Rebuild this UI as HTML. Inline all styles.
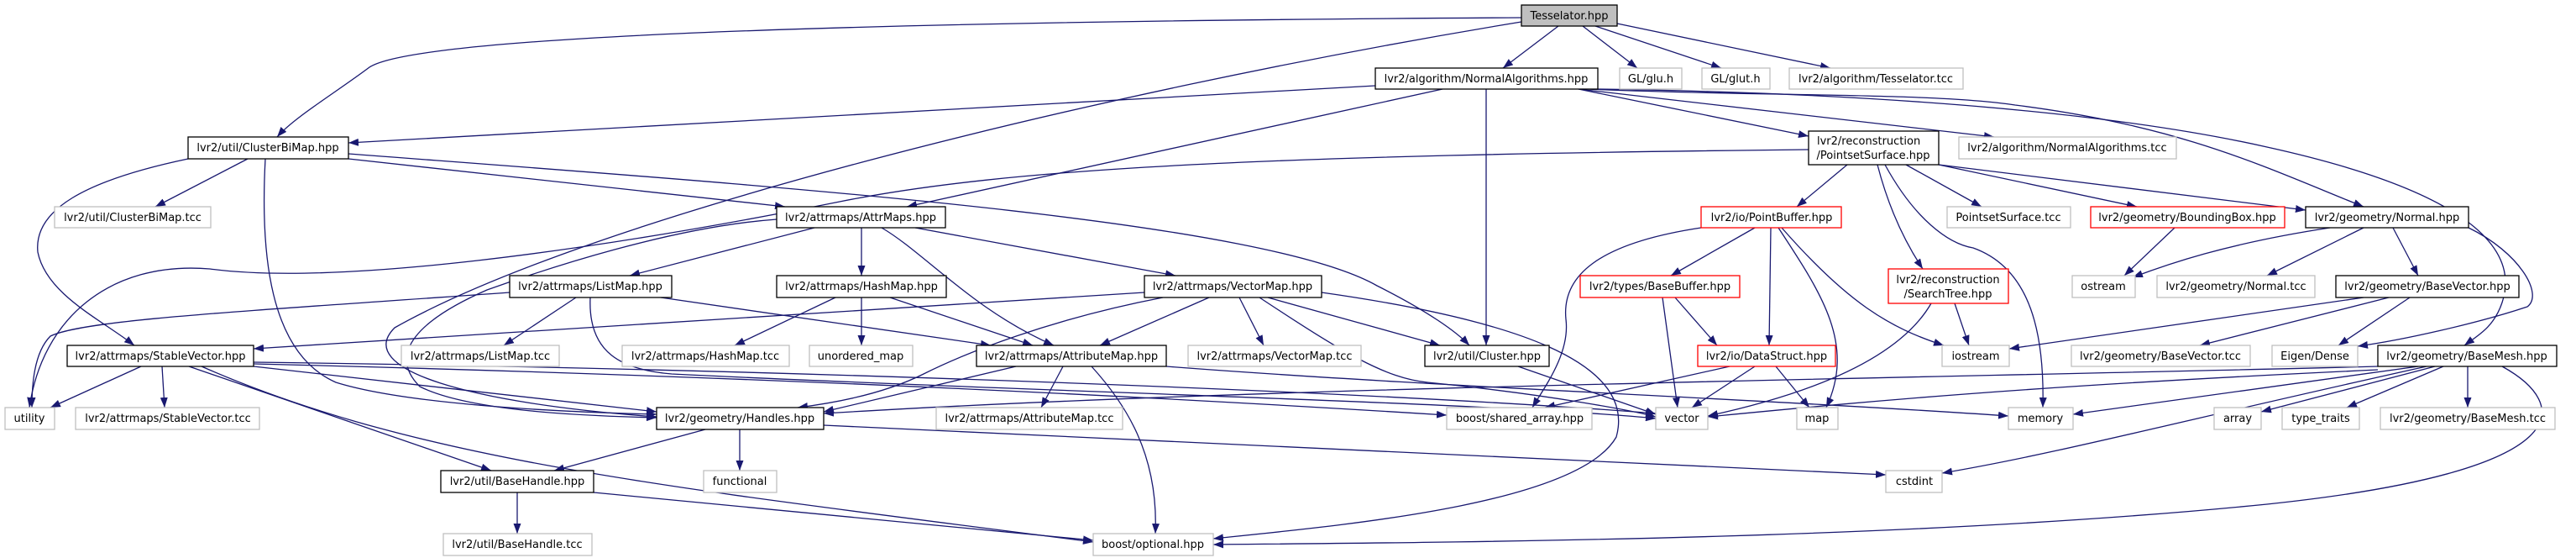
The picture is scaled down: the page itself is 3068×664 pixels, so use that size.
<!DOCTYPE html>
<html><head><meta charset="utf-8">
<style>
html,body{margin:0;padding:0;background:#fff;}
svg{display:block;}
text{font-family:"DejaVu Sans","Liberation Sans",sans-serif;font-size:13px;fill:#000;}
.e{fill:none;stroke:#191970;stroke-width:1.3;marker-end:url(#a);}
.n{fill:#fff;stroke:#000;stroke-width:1.3;}
.g{fill:#fff;stroke:#bfbfbf;stroke-width:1.3;}
.r{fill:#fff;stroke:#ff0000;stroke-width:1.3;}
.t{fill:#bfbfbf;stroke:#000;stroke-width:1.3;}
</style></head><body>
<svg width="3068" height="664" viewBox="0 0 3068 664" xmlns="http://www.w3.org/2000/svg">
<defs><marker id="a" markerUnits="userSpaceOnUse" markerWidth="12" markerHeight="9" refX="12" refY="4.5" orient="auto"><path d="M0,0 L12,4.5 L0,9 z" fill="#191970"/></marker></defs>
<g>
<path class="e" d="M1856,31 L1790,81"/>
<path class="e" d="M1885,31 L1950,81"/>
<path class="e" d="M1900,31 L2050,81"/>
<path class="e" d="M1926,28 L2180,81"/>
<path class="e" d="M1812,21 C1100,25 500,40 440,80 C400,110 350,140 330,163"/>
<path class="e" d="M1812,26 C1300,110 700,260 470,390 C420,440 560,480 782,496"/>
<path class="e" d="M1638,102 L415,170"/>
<path class="e" d="M1718,106 L1080,246"/>
<path class="e" d="M1770,106 L1770,411"/>
<path class="e" d="M1880,106 L2154,162"/>
<path class="e" d="M1880,106 L2375,163"/>
<path class="e" d="M1890,106 C2100,115 2300,110 2400,125 C2600,150 2700,200 2815,246"/>
<path class="e" d="M1900,106 C2200,110 2500,130 2700,175 C2950,230 3000,300 2980,360 C2970,390 2950,400 2935,411"/>
<path class="e" d="M295,189 L185,246"/>
<path class="e" d="M224,189 C100,215 40,250 45,300 C55,350 120,380 160,411"/>
<path class="e" d="M316,189 C310,300 320,420 400,455 C480,480 650,490 782,493"/>
<path class="e" d="M415,189 L935,246"/>
<path class="e" d="M415,183 C900,220 1500,260 1640,340 C1700,370 1735,395 1750,411"/>
<path class="e" d="M2154,178 C1500,185 1200,200 1000,240 C700,300 400,340 250,320 C130,310 50,380 35,485"/>
<path class="e" d="M2200,196 L2140,246"/>
<path class="e" d="M2236,196 C2250,250 2270,290 2290,320"/>
<path class="e" d="M2270,196 L2360,246"/>
<path class="e" d="M2309,196 L2545,246"/>
<path class="e" d="M2309,196 L2746,250"/>
<path class="e" d="M2245,196 C2280,260 2320,290 2350,295 C2420,320 2435,400 2433,485"/>
<path class="e" d="M970,271 L750,328"/>
<path class="e" d="M1026,271 L1026,328"/>
<path class="e" d="M1090,271 L1400,328"/>
<path class="e" d="M1050,271 C1100,300 1160,370 1255,411"/>
<path class="e" d="M925,261 C800,270 650,320 580,345 C500,380 460,420 500,460 C560,490 700,495 782,497"/>
<path class="e" d="M607,348 C300,370 100,380 60,400 C40,420 38,460 38,485"/>
<path class="e" d="M686,354 L600,411"/>
<path class="e" d="M787,354 L1180,411"/>
<path class="e" d="M703,354 C700,420 740,440 800,445 C1200,465 1800,480 1972,498"/>
<path class="e" d="M995,354 L875,411"/>
<path class="e" d="M1026,354 L1026,411"/>
<path class="e" d="M1060,354 L1230,411"/>
<path class="e" d="M1363,348 L302,415"/>
<path class="e" d="M1385,354 C1250,380 1150,420 1100,445 C1050,470 990,480 950,485"/>
<path class="e" d="M1440,354 L1310,411"/>
<path class="e" d="M1476,354 L1505,411"/>
<path class="e" d="M1510,354 L1715,411"/>
<path class="e" d="M1500,354 C1600,420 1650,450 1700,455 C1850,470 1950,490 1972,496"/>
<path class="e" d="M1574,348 C1800,380 1950,430 1925,520 C1880,600 1600,625 1445,641"/>
<path class="e" d="M1266,436 L1240,485"/>
<path class="e" d="M1300,436 C1340,480 1380,540 1376,635"/>
<path class="e" d="M1210,436 L981,490"/>
<path class="e" d="M1389,436 C1700,460 2100,475 2392,495"/>
<path class="e" d="M1808,436 L1972,493"/>
<path class="e" d="M2026,271 C1900,290 1860,330 1865,380 C1870,420 1840,460 1825,485"/>
<path class="e" d="M2090,271 L1990,328"/>
<path class="e" d="M2109,271 L2107,411"/>
<path class="e" d="M2118,271 C2170,350 2210,410 2175,485"/>
<path class="e" d="M2122,271 C2200,360 2250,390 2315,411"/>
<path class="e" d="M1995,354 L2045,411"/>
<path class="e" d="M1980,354 L1998,485"/>
<path class="e" d="M2060,436 L1840,485"/>
<path class="e" d="M2090,436 L2015,485"/>
<path class="e" d="M2115,436 L2155,485"/>
<path class="e" d="M2300,361 C2260,430 2150,470 2034,495"/>
<path class="e" d="M2328,361 L2345,411"/>
<path class="e" d="M2590,271 L2530,328"/>
<path class="e" d="M2775,271 C2650,290 2580,315 2540,330"/>
<path class="e" d="M2815,271 L2700,328"/>
<path class="e" d="M2850,271 L2880,328"/>
<path class="e" d="M2940,271 C3000,300 3030,350 3010,365 C2950,385 2860,405 2808,412"/>
<path class="e" d="M2815,354 L2393,415"/>
<path class="e" d="M2845,354 L2620,411"/>
<path class="e" d="M2870,354 L2785,411"/>
<path class="e" d="M2832,436 C2300,450 1500,460 981,492"/>
<path class="e" d="M2832,440 C2400,460 2200,480 2034,496"/>
<path class="e" d="M2880,436 L2469,493"/>
<path class="e" d="M2890,436 C2600,500 2450,540 2313,563"/>
<path class="e" d="M2900,436 L2693,490"/>
<path class="e" d="M2910,436 L2795,485"/>
<path class="e" d="M2939,436 L2939,485"/>
<path class="e" d="M2980,436 C3060,480 3080,560 2700,600 C2300,640 1800,645 1445,648"/>
<path class="e" d="M168,436 L60,485"/>
<path class="e" d="M193,436 L196,485"/>
<path class="e" d="M302,436 L782,490"/>
<path class="e" d="M225,436 L585,560"/>
<path class="e" d="M240,436 C500,550 800,580 1302,645"/>
<path class="e" d="M302,431 C1000,440 1700,470 1972,492"/>
<path class="e" d="M302,433 C1000,450 1500,480 1723,494"/>
<path class="e" d="M840,511 L660,560"/>
<path class="e" d="M881,511 L881,560"/>
<path class="e" d="M981,506 L2246,565"/>
<path class="e" d="M616,586 L616,635"/>
<path class="e" d="M707,586 L1302,643"/>
</g>
<g>
<rect class="t" x="1812" y="6" width="114" height="25"/><text x="1869" y="23" text-anchor="middle">Tesselator.hpp</text>
<rect class="n" x="1638" y="81" width="265" height="25"/><text x="1770" y="98" text-anchor="middle">lvr2/algorithm/NormalAlgorithms.hpp</text>
<rect class="g" x="1929" y="81" width="74" height="25"/><text x="1966" y="98" text-anchor="middle">GL/glu.h</text>
<rect class="g" x="2027" y="81" width="81" height="25"/><text x="2067" y="98" text-anchor="middle">GL/glut.h</text>
<rect class="g" x="2131" y="81" width="207" height="25"/><text x="2234" y="98" text-anchor="middle">lvr2/algorithm/Tesselator.tcc</text>
<rect class="n" x="224" y="163" width="191" height="26"/><text x="319" y="180" text-anchor="middle">lvr2/util/ClusterBiMap.hpp</text>
<rect class="n" x="2154" y="156" width="155" height="40"/><text x="2164" y="172">lvr2/reconstruction</text><text x="2231" y="189" text-anchor="middle">/PointsetSurface.hpp</text>
<rect class="g" x="2333" y="163" width="259" height="26"/><text x="2462" y="180" text-anchor="middle">lvr2/algorithm/NormalAlgorithms.tcc</text>
<rect class="g" x="65" y="246" width="186" height="25"/><text x="158" y="263" text-anchor="middle">lvr2/util/ClusterBiMap.tcc</text>
<rect class="n" x="925" y="246" width="201" height="25"/><text x="1025" y="263" text-anchor="middle">lvr2/attrmaps/AttrMaps.hpp</text>
<rect class="r" x="2026" y="246" width="167" height="25"/><text x="2110" y="263" text-anchor="middle">lvr2/io/PointBuffer.hpp</text>
<rect class="g" x="2319" y="246" width="147" height="25"/><text x="2392" y="263" text-anchor="middle">PointsetSurface.tcc</text>
<rect class="r" x="2490" y="246" width="231" height="25"/><text x="2605" y="263" text-anchor="middle">lvr2/geometry/BoundingBox.hpp</text>
<rect class="n" x="2746" y="246" width="194" height="25"/><text x="2843" y="263" text-anchor="middle">lvr2/geometry/Normal.hpp</text>
<rect class="n" x="607" y="328" width="193" height="26"/><text x="703" y="345" text-anchor="middle">lvr2/attrmaps/ListMap.hpp</text>
<rect class="n" x="925" y="328" width="202" height="26"/><text x="1026" y="345" text-anchor="middle">lvr2/attrmaps/HashMap.hpp</text>
<rect class="n" x="1363" y="328" width="211" height="26"/><text x="1468" y="345" text-anchor="middle">lvr2/attrmaps/VectorMap.hpp</text>
<rect class="r" x="1882" y="328" width="190" height="26"/><text x="1977" y="345" text-anchor="middle">lvr2/types/BaseBuffer.hpp</text>
<rect class="r" x="2249" y="320" width="143" height="41"/><text x="2320" y="337" text-anchor="middle">lvr2/reconstruction</text><text x="2320" y="354" text-anchor="middle">/SearchTree.hpp</text>
<rect class="g" x="2468" y="328" width="75" height="26"/><text x="2505" y="345" text-anchor="middle">ostream</text>
<rect class="g" x="2569" y="328" width="188" height="26"/><text x="2663" y="345" text-anchor="middle">lvr2/geometry/Normal.tcc</text>
<rect class="n" x="2782" y="328" width="218" height="26"/><text x="2891" y="345" text-anchor="middle">lvr2/geometry/BaseVector.hpp</text>
<rect class="n" x="80" y="411" width="222" height="25"/><text x="191" y="428" text-anchor="middle">lvr2/attrmaps/StableVector.hpp</text>
<rect class="g" x="478" y="411" width="188" height="25"/><text x="572" y="428" text-anchor="middle">lvr2/attrmaps/ListMap.tcc</text>
<rect class="g" x="741" y="411" width="199" height="25"/><text x="840" y="428" text-anchor="middle">lvr2/attrmaps/HashMap.tcc</text>
<rect class="g" x="964" y="411" width="123" height="25"/><text x="1025" y="428" text-anchor="middle">unordered_map</text>
<rect class="n" x="1163" y="411" width="226" height="25"/><text x="1276" y="428" text-anchor="middle">lvr2/attrmaps/AttributeMap.hpp</text>
<rect class="g" x="1415" y="411" width="206" height="25"/><text x="1518" y="428" text-anchor="middle">lvr2/attrmaps/VectorMap.tcc</text>
<rect class="n" x="1697" y="411" width="148" height="25"/><text x="1771" y="428" text-anchor="middle">lvr2/util/Cluster.hpp</text>
<rect class="r" x="2022" y="411" width="164" height="25"/><text x="2104" y="428" text-anchor="middle">lvr2/io/DataStruct.hpp</text>
<rect class="g" x="2313" y="411" width="80" height="25"/><text x="2353" y="428" text-anchor="middle">iostream</text>
<rect class="g" x="2467" y="411" width="213" height="25"/><text x="2573" y="428" text-anchor="middle">lvr2/geometry/BaseVector.tcc</text>
<rect class="g" x="2706" y="411" width="102" height="25"/><text x="2757" y="428" text-anchor="middle">Eigen/Dense</text>
<rect class="n" x="2832" y="411" width="213" height="25"/><text x="2938" y="428" text-anchor="middle">lvr2/geometry/BaseMesh.hpp</text>
<rect class="g" x="6" y="485" width="59" height="26"/><text x="35" y="502" text-anchor="middle">utility</text>
<rect class="g" x="90" y="485" width="219" height="26"/><text x="200" y="502" text-anchor="middle">lvr2/attrmaps/StableVector.tcc</text>
<rect class="n" x="782" y="485" width="199" height="26"/><text x="881" y="502" text-anchor="middle">lvr2/geometry/Handles.hpp</text>
<rect class="g" x="1115" y="485" width="222" height="26"/><text x="1226" y="502" text-anchor="middle">lvr2/attrmaps/AttributeMap.tcc</text>
<rect class="g" x="1723" y="485" width="173" height="26"/><text x="1810" y="502" text-anchor="middle">boost/shared_array.hpp</text>
<rect class="g" x="1972" y="485" width="62" height="26"/><text x="2003" y="502" text-anchor="middle">vector</text>
<rect class="g" x="2140" y="485" width="49" height="26"/><text x="2164" y="502" text-anchor="middle">map</text>
<rect class="g" x="2392" y="485" width="77" height="26"/><text x="2430" y="502" text-anchor="middle">memory</text>
<rect class="g" x="2637" y="485" width="56" height="26"/><text x="2665" y="502" text-anchor="middle">array</text>
<rect class="g" x="2718" y="485" width="92" height="26"/><text x="2764" y="502" text-anchor="middle">type_traits</text>
<rect class="g" x="2835" y="485" width="208" height="26"/><text x="2939" y="502" text-anchor="middle">lvr2/geometry/BaseMesh.tcc</text>
<rect class="n" x="525" y="560" width="182" height="26"/><text x="616" y="577" text-anchor="middle">lvr2/util/BaseHandle.hpp</text>
<rect class="g" x="838" y="560" width="87" height="26"/><text x="881" y="577" text-anchor="middle">functional</text>
<rect class="g" x="2246" y="560" width="67" height="26"/><text x="2280" y="577" text-anchor="middle">cstdint</text>
<rect class="g" x="528" y="635" width="177" height="26"/><text x="616" y="652" text-anchor="middle">lvr2/util/BaseHandle.tcc</text>
<rect class="g" x="1302" y="635" width="143" height="26"/><text x="1373" y="652" text-anchor="middle">boost/optional.hpp</text>
</g>
</svg>
</body></html>
